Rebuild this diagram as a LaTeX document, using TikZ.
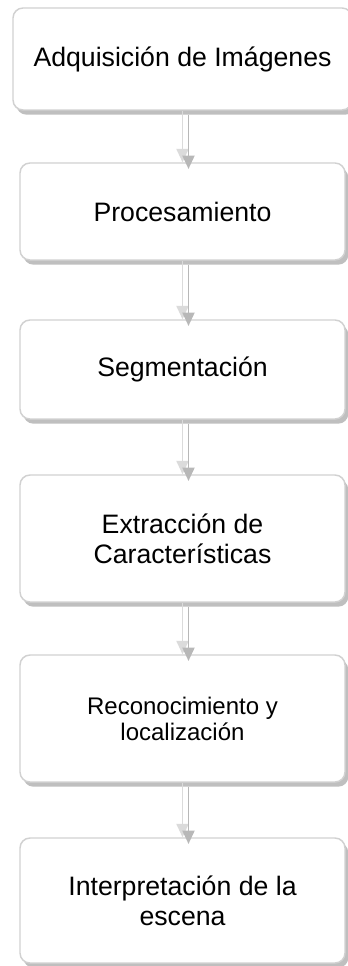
\documentclass[tikz,border=0pt]{standalone}
\usepackage{fontspec}
\setmainfont{Liberation Sans}
\usetikzlibrary{arrows.meta,shadows}

\begin{document}
\begin{tikzpicture}[x=0.75pt, y=-0.75pt,
    stage/.style={draw=black!18, line width=1.1pt, fill=white, rounded corners=7.5pt,
      minimum width=243.75pt, inner sep=0pt, align=center,
      font=\fontsize{20}{22.5}\selectfont,
      drop shadow={shadow xshift=2.5pt, shadow yshift=-3.5pt, fill=black!25, opacity=1}},
    link/.style={draw=black!14, line width=1.4pt, -{Triangle[length=10pt,width=9pt]}},
    linkshade/.style={draw=black!28, line width=1.4pt, -{Triangle[length=10pt,width=9pt]}}]
    \useasboundingbox (0,0) rectangle (347,966);
    % stages
    \node[stage, minimum width=254.25pt, minimum height=76.5pt] at (182.5,59) (s1) {Adquisición de Imágenes};
    \node[stage, minimum height=72.75pt] at (182.5,211.5) (s2) {Procesamiento};
    \node[stage, minimum height=74.25pt] at (182.5,369.5) (s3) {Segmentación};
    \node[stage, minimum height=95.25pt] at (182.5,538.5) (s4) {Extracción de\\Características};
    \node[stage, minimum height=95.25pt, font=\fontsize{18}{19.5}\selectfont] at (182.5,718.5) (s5) {Reconocimiento y\\localización};
    \node[stage, minimum height=93.75pt] at (182.5,900.5) (s6) {Interpretación de la\\escena};

    % connections
    \foreach \a/\b in {s1/s2, s2/s3, s3/s4, s4/s5, s5/s6} {
      \draw[link] (\a.south) -- (\b.north);
      \draw[linkshade] ([xshift=4.5pt,yshift=-3pt]\a.south) -- ([xshift=4.5pt,yshift=-5pt]\b.north);
    }
\end{tikzpicture}
\end{document}
